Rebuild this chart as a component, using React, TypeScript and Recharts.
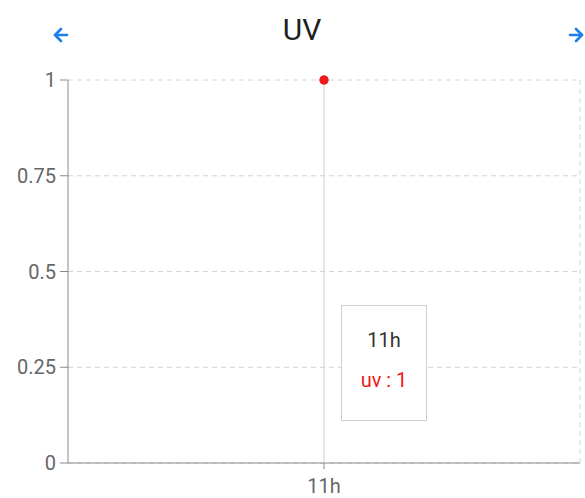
import React from "react";
import {
  LineChart,
  Line,
  XAxis,
  YAxis,
  CartesianGrid,
  Tooltip,
} from "recharts";

const categories = ["11h"];
const uvValues = [1];
const yTicks = [0, 0.25, 0.5, 0.75, 1];
const title = "UV";
const seriesName = "uv";

const data = categories.map((c, i) => ({ hour: c, uv: uvValues[i] }));

const RED = "#f01818";
const FONT = "Roboto, 'Noto Sans', sans-serif";

const TooltipBox = (props: any) => {
  const { active, payload, label } = props;
  if (!active || !payload || !payload.length) return null;
  return (
    <div
      style={{
        width: 86,
        height: 116,
        boxSizing: "border-box",
        background: "#fff",
        border: "1px solid #cfcfcf",
        fontFamily: FONT,
        fontSize: 20,
        lineHeight: "24px",
        textAlign: "center",
        paddingTop: 22,
      }}
    >
      <div style={{ color: "#333" }}>{label}</div>
      <div style={{ color: RED, marginTop: 16 }}>
        {payload[0].name} : {payload[0].value}
      </div>
    </div>
  );
};

const Arrow = ({ dir }: { dir: "left" | "right" }) => (
  <svg width={20} height={20} viewBox="0 0 20 20">
    <g
      transform={dir === "right" ? "translate(20,0) scale(-1,1)" : undefined}
      stroke="#1a7fe8"
      strokeWidth={2.6}
      fill="none"
      strokeLinecap="round"
      strokeLinejoin="round"
    >
      <path d="M4 10 H16" />
      <path d="M10 4 L4 10 L10 16" />
    </g>
  </svg>
);

export default function App() {
  return (
    <div
      style={{
        position: "absolute",
        left: 0,
        top: 0,
        width: 585,
        height: 498,
        background: "#fff",
        overflow: "hidden",
        fontFamily: FONT,
      }}
    >
      <div style={{ position: "absolute", left: 0, top: 0 }}>
        <LineChart
          width={585}
          height={498}
          data={data}
          margin={{ top: 80, right: 5, bottom: 0, left: 0 }}
        >
          <CartesianGrid
            stroke="#d4d4d4"
            strokeDasharray="5 4"
            verticalCoordinatesGenerator={({ offset }: any) => [
              offset.left + offset.width,
            ]}
          />
          <XAxis
            dataKey="hour"
            height={35}
            tickSize={6}
            tickMargin={10}
            stroke="#8a8a8a"
            tick={{ fill: "#666", fontSize: 20, fontFamily: FONT }}
          />
          <YAxis
            width={68}
            domain={[0, 1]}
            ticks={yTicks}
            tickSize={8}
            tickMargin={4}
            stroke="#8a8a8a"
            tick={{ fill: "#666", fontSize: 20, fontFamily: FONT }}
          />
          <Tooltip
            defaultIndex={0}
            content={<TooltipBox />}
            cursor={{ stroke: "#cccccc", strokeWidth: 1 }}
            position={{ x: 341, y: 305 }}
            isAnimationActive={false}
            wrapperStyle={{ outline: "none" }}
          />
          <Line
            type="linear"
            dataKey="uv"
            name={seriesName}
            stroke={RED}
            strokeWidth={2}
            dot={{ r: 4.5, fill: RED, stroke: "none" }}
            activeDot={{ r: 4.5, fill: RED, stroke: "none" }}
            isAnimationActive={false}
          />
        </LineChart>
      </div>
      <div style={{ position: "absolute", left: 51, top: 25 }}>
        <Arrow dir="left" />
      </div>
      <div style={{ position: "absolute", left: 566, top: 25 }}>
        <Arrow dir="right" />
      </div>
      <div
        style={{
          position: "absolute",
          left: 0,
          top: 15,
          width: 604,
          textAlign: "center",
          fontSize: 30,
          lineHeight: "30px",
          color: "#1f1f1f",
        }}
      >
        {title}
      </div>
    </div>
  );
}
